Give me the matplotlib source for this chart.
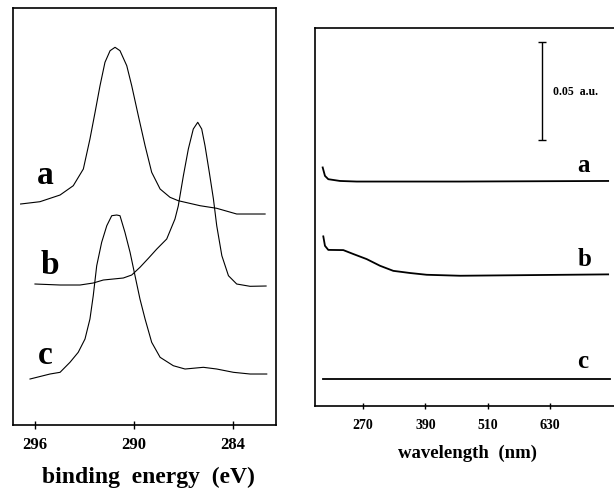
import numpy as np
import matplotlib
matplotlib.use('Agg')
import matplotlib.pyplot as plt

plt.rcParams['font.family'] = ['Liberation Serif', 'DejaVu Serif']

#####################################################################
# XPS C1s spectra (left panel), intensity in a.u. with offsets
#####################################################################
xps_a_energy = [296.87, 295.70, 294.48, 293.68, 293.07, 292.67, 292.36, 292.06, 291.76,
                291.45, 291.15, 290.85, 290.44, 290.14, 289.74, 289.33, 288.93, 288.42,
                287.82, 287.32, 286.00, 284.99, 283.78, 282.06]
xps_a_int = [22.1, 22.33, 23.0, 23.93, 25.6, 28.6, 31.27, 33.93, 36.27,
             37.43, 37.77, 37.43, 35.93, 33.93, 30.93, 27.93, 25.27, 23.6,
             22.77, 22.43, 21.93, 21.67, 21.1, 21.1]

xps_b_energy = [296.0, 294.48, 293.27, 292.47, 291.86, 290.65, 290.14, 289.64, 289.13,
                288.62, 288.02, 287.52, 287.32, 287.01, 286.71, 286.41, 286.14, 285.90,
                285.70, 285.44, 285.19, 284.99, 284.68, 284.28, 283.78, 282.97, 282.0]
xps_b_int = [14.1, 14.0, 14.0, 14.2, 14.5, 14.7, 15.0, 15.77, 16.67,
             17.6, 18.6, 20.6, 21.9, 24.93, 27.6, 29.6, 30.27, 29.6,
             27.93, 25.27, 22.6, 19.93, 16.93, 14.93, 14.1, 13.87, 13.9]

xps_c_energy = [296.30, 295.09, 294.48, 293.88, 293.38, 292.97, 292.67, 292.47, 292.26,
                291.96, 291.65, 291.35, 291.05, 290.85, 290.55, 290.24, 289.94, 289.64,
                289.33, 288.93, 288.42, 287.62, 286.91, 285.80, 284.99, 283.98, 282.97,
                281.96]
xps_c_int = [4.6, 5.1, 5.27, 6.27, 7.27, 8.6, 10.6, 12.93, 15.93,
             18.27, 19.93, 20.93, 21.0, 20.93, 19.27, 17.27, 14.93, 12.6,
             10.6, 8.27, 6.77, 5.93, 5.6, 5.77, 5.6, 5.27, 5.1,
             5.1]

xps_ticks = [296, 290, 284]

#####################################################################
# UV-vis spectra (right panel), absorbance in a.u. with offsets
#####################################################################
uv_a_wl = [192.4, 196.8, 203.2, 225.7, 257.9, 360.5, 456.8, 741.7]
uv_a_abs = [0.1218, 0.1175, 0.1158, 0.1149, 0.1146, 0.1146, 0.1146, 0.1149]

uv_b_wl = [193.6, 196.8, 203.2, 232.1, 251.3, 277.1, 302.7, 328.3, 360.5, 392.6, 456.8, 741.7]
uv_b_abs = [0.0866, 0.0818, 0.0797, 0.0796, 0.0776, 0.0750, 0.0716, 0.0690, 0.0679,
            0.0670, 0.0665, 0.0672]

uv_c_wl = [192.4, 745.5]
uv_c_abs = [0.0138, 0.0138]

uv_ticks = [270, 390, 510, 630]
scale_bar = 0.05

fig = plt.figure(figsize=(6.14, 4.89), dpi=100)

#####################################################################
# left panel
#####################################################################
ax1 = fig.add_axes([0.0212, 0.1288, 0.4283, 0.8528])
for e, i in [(xps_a_energy, xps_a_int), (xps_b_energy, xps_b_int), (xps_c_energy, xps_c_int)]:
    ax1.plot(e, i, color='black', lw=0.8)
ax1.set_xlim(297.33, 281.4)
ax1.set_ylim(0, 41.7)
ax1.set_xticks(xps_ticks)
ax1.set_xticklabels([str(t) for t in xps_ticks], fontsize=12, fontweight='bold')
ax1.set_yticks([])
ax1.tick_params(axis='x', direction='inout', length=6, width=1, pad=5)
for s in ax1.spines.values():
    s.set_linewidth(1.2)
ax1.text(295.39, 25.1, 'a', fontsize=24, fontweight='bold', ha='center', va='center')
ax1.text(295.09, 16.1, 'b', fontsize=24, fontweight='bold', ha='center', va='center')
ax1.text(295.39, 7.1, 'c', fontsize=24, fontweight='bold', ha='center', va='center')
fig.text(0.241, 0.024, 'binding  energy  (eV)', fontsize=17, fontweight='bold',
         ha='center', va='center')

#####################################################################
# right panel
#####################################################################
ax2 = fig.add_axes([0.513, 0.1677, 0.497, 0.773])
for w, a in [(uv_a_wl, uv_a_abs), (uv_b_wl, uv_b_abs), (uv_c_wl, uv_c_abs)]:
    ax2.plot(w, a, color='black', lw=1.3)
ax2.set_xlim(177.6, 764.8)
ax2.set_ylim(0, 0.193)
ax2.set_xticks(uv_ticks)
ax2.set_xticklabels([str(t) for t in uv_ticks], fontsize=10, fontweight='bold')
ax2.set_yticks([])
ax2.tick_params(axis='x', direction='inout', length=5, width=1, pad=6)
for s in ax2.spines.values():
    s.set_linewidth(1.2)
ax2.spines['right'].set_visible(False)

# scale bar
ax2.errorbar([614.6], [0.1357 + scale_bar / 2], yerr=[scale_bar / 2], color='black',
             lw=1, capsize=3, capthick=1)
ax2.text(635.8, 0.1607, '0.05  a.u.', fontsize=8.5, fontweight='bold', ha='left', va='center')

ax2.text(693.6, 0.1235, 'a', fontsize=18, fontweight='bold', ha='center', va='center')
ax2.text(695.5, 0.0755, 'b', fontsize=18, fontweight='bold', ha='center', va='center')
ax2.text(693.6, 0.0230, 'c', fontsize=18, fontweight='bold', ha='center', va='center')
fig.text(0.7606, 0.0736, 'wavelength  (nm)', fontsize=13.5, fontweight='bold',
         ha='center', va='center')

plt.savefig('out.png', dpi=100)
plt.close()
